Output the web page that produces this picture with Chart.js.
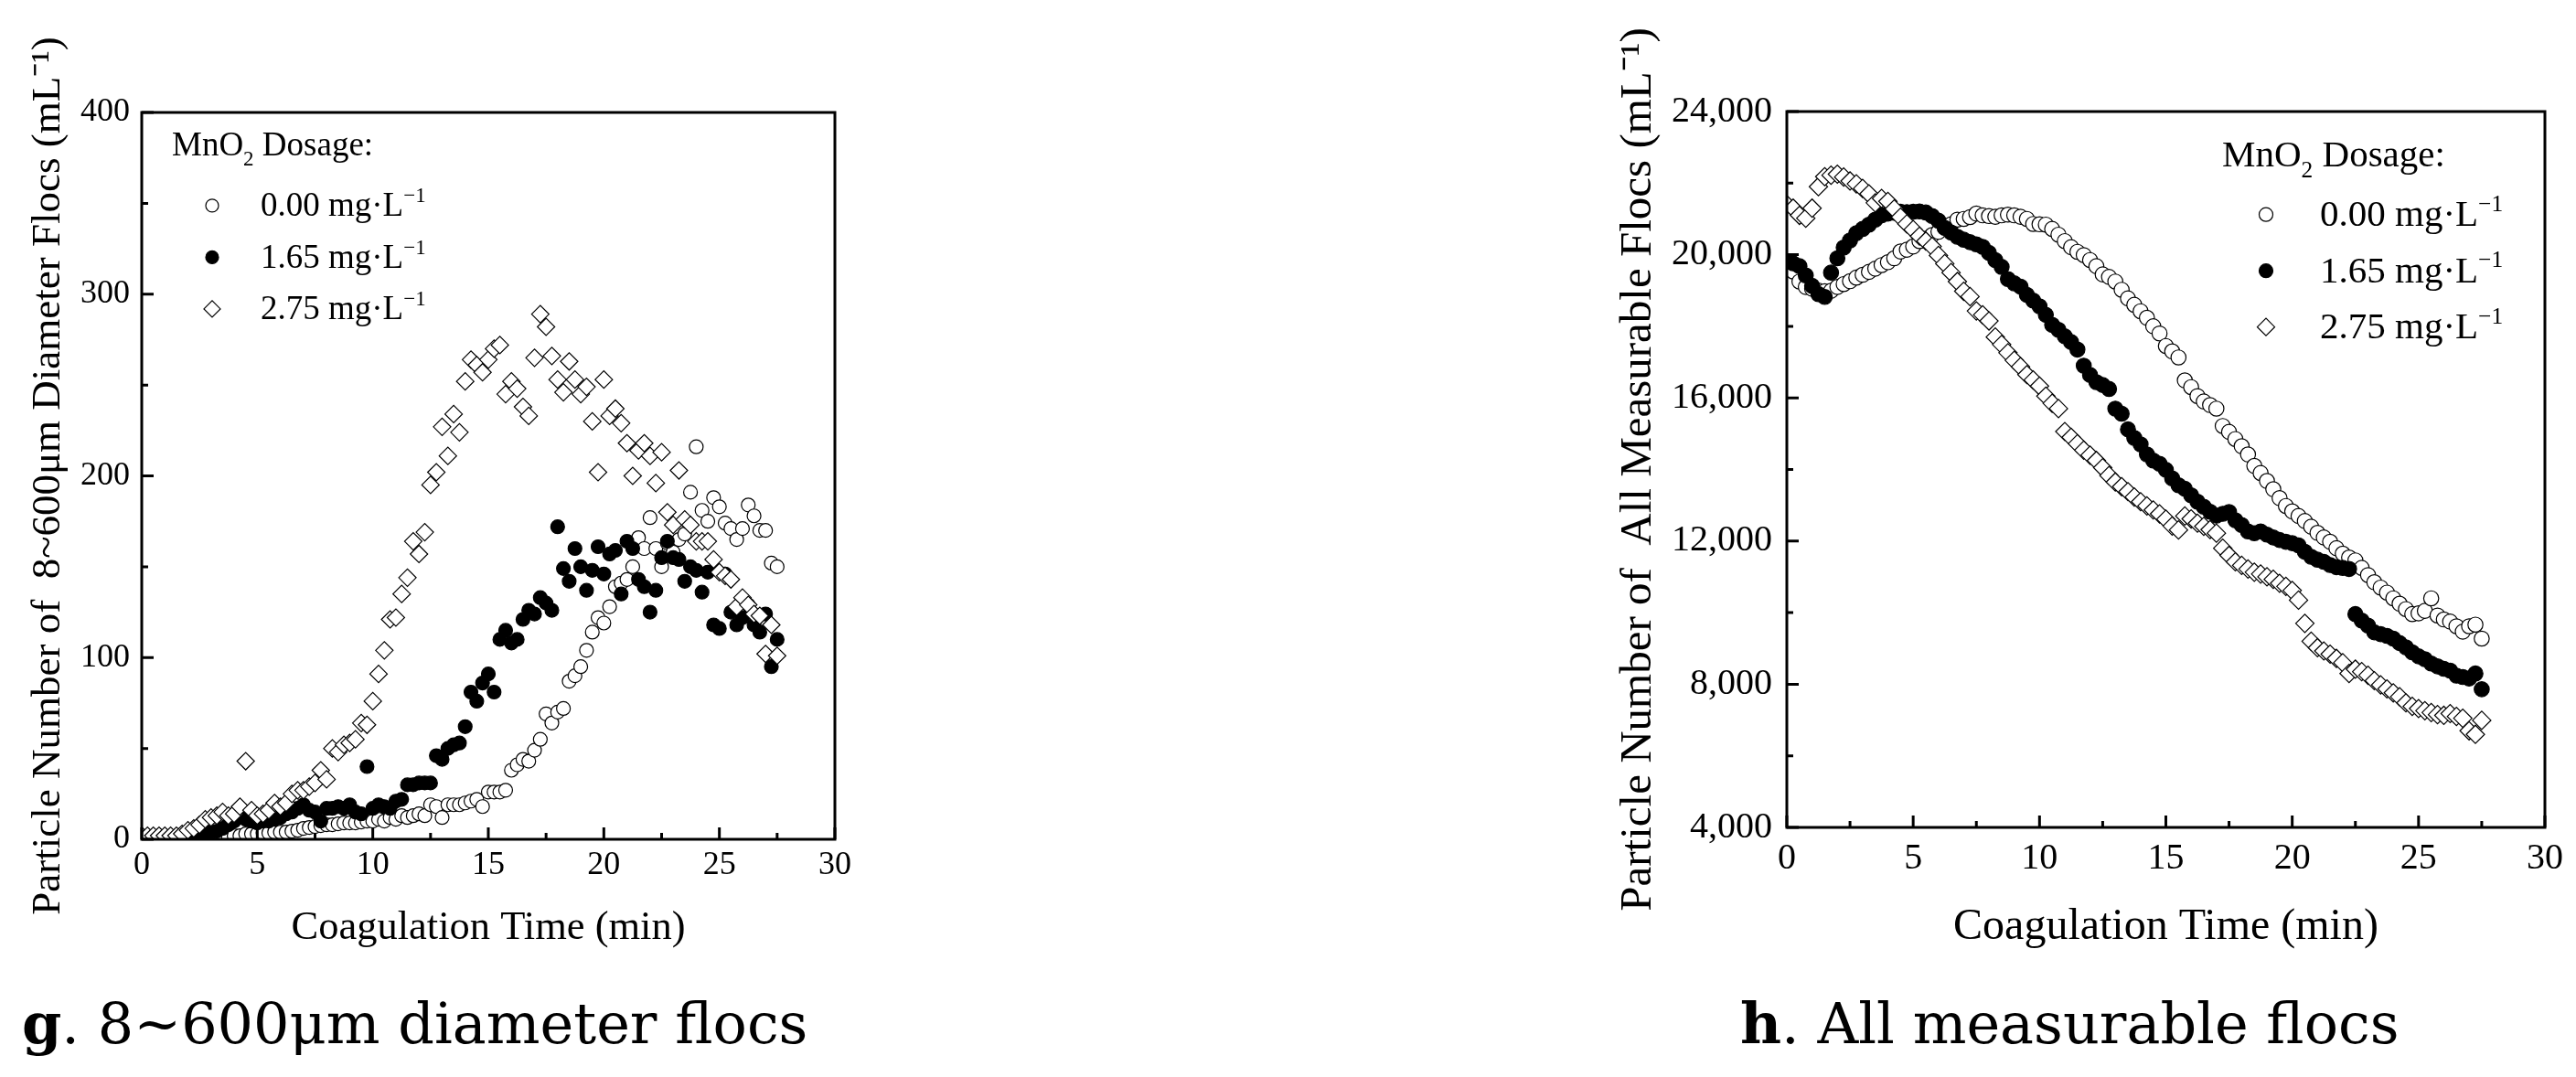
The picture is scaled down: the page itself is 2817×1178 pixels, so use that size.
<!DOCTYPE html>
<html>
<head>
<meta charset="utf-8">
<title>MnO2 dosage - floc particle numbers</title>
<script src="https://cdn.jsdelivr.net/npm/chart.js@4.4.1/dist/chart.umd.min.js"></script>
<style>
  html, body { margin: 0; padding: 0; background: #fff; }
  body { width: 2817px; height: 1178px; position: relative; overflow: hidden; }
  canvas { position: absolute; top: 0; }
  #chartG { left: 0; }
  #chartH { left: 1700px; }
  .caption { position: absolute; top: 1089px; font-family: 'DejaVu Serif', serif; font-size: 62px; line-height: 1; white-space: nowrap; color: #000; }
</style>
</head>
<body>
<canvas id="chartG" width="960" height="1178"></canvas>
<canvas id="chartH" width="1117" height="1178"></canvas>
<div class="caption" style="left:24px;"><b>g</b>. 8~600μm diameter flocs</div>
<div class="caption" style="left:1903px;"><b>h</b>. All measurable flocs</div>
<script>
// coagulation time (min), one reading every 15 s
const times = [0, 0.25, 0.5, 0.75, 1, 1.25, 1.5, 1.75, 2, 2.25, 2.5, 2.75,
  3, 3.25, 3.5, 3.75, 4, 4.25, 4.5, 4.75, 5, 5.25, 5.5, 5.75,
  6, 6.25, 6.5, 6.75, 7, 7.25, 7.5, 7.75, 8, 8.25, 8.5, 8.75,
  9, 9.25, 9.5, 9.75, 10, 10.25, 10.5, 10.75, 11, 11.25, 11.5, 11.75,
  12, 12.25, 12.5, 12.75, 13, 13.25, 13.5, 13.75, 14, 14.25, 14.5, 14.75,
  15, 15.25, 15.5, 15.75, 16, 16.25, 16.5, 16.75, 17, 17.25, 17.5, 17.75,
  18, 18.25, 18.5, 18.75, 19, 19.25, 19.5, 19.75, 20, 20.25, 20.5, 20.75,
  21, 21.25, 21.5, 21.75, 22, 22.25, 22.5, 22.75, 23, 23.25, 23.5, 23.75,
  24, 24.25, 24.5, 24.75, 25, 25.25, 25.5, 25.75, 26, 26.25, 26.5, 26.75,
  27, 27.25, 27.5];

const dosageLabels = ['0.00', '1.65', '2.75'];

// g. 8~600 um flocs (mL-1)
const g000 = [null, null, null, null, null, null, null, null, null, null, null, null,
  0.5, 1, 1, 1.5, 2, 2, 3, 3, 3, 3.5, 3.5, 4,
  4, 4, 4.5, 5, 6, 6.5, 7, 7.5, 8, 8, 8.5, 9,
  9, 9, 9.5, 10, 10, 11, 10, 12, 11, 13, 12, 13,
  14, 13, 19, 18, 12, 19, 19, 19, 20, 21, 22, 18,
  26, 26, 26, 27, 38, 41, 44, 43, 49, 55, 69, 64,
  70, 72, 87, 90, 95, 104, 114, 122, 119, 128, 139, 141,
  143, 150, 166, 160, 177, 160, 150, 163, 158, 165, 168, 191,
  216, 181, 175, 188, 183, 174, 171, 165, 171, 184, 178, 170,
  170, 152, 150];
const g165 = [null, null, null, null, null, null, null, null, null, 0.5, 1.5, 3,
  4, 4.5, 6, 8, 10, 12, 11, 10, 9, 10, 10, 11,
  12, 14, 15, 17, 19, 16, 15, 10, 17, 17, 18, 17,
  19, 15, 14, 40, 17, 19, 18, 17, 21, 22, 30, 30,
  31, 31, 31, 46, 44, 50, 52, 53, 62, 81, 76, 86,
  91, 81, 110, 115, 108, 110, 121, 126, 124, 133, 130, 126,
  172, 149, 142, 160, 150, 137, 148, 161, 146, 157, 159, 135,
  164, 160, 143, 139, 125, 137, 155, 164, 155, 154, 142, 150,
  148, 136, 147, 118, 116, 146, 125, 118, 122, 129, 118, 114,
  124, 95, 110];
const g275 = [2, 2, 2, 2, 2, 2, 2, 3, 5, 6, 8, 11,
  12, 13, 15, 13, 14, 18, 43, 16, 13, 14, 16, 20,
  18, 20, 25, 27, 27, 29, 31, 38, 33, 50, 48, 52,
  53, 55, 64, 63, 76, 91, 104, 121, 122, 135, 144, 164,
  157, 169, 195, 202, 227, 211, 234, 224, 252, 264, 261, 257,
  264, 270, 272, 245, 252, 248, 238, 233, 265, 289, 282, 266,
  253, 246, 263, 253, 245, 249, 230, 202, 253, 233, 237, 229,
  218, 200, 214, 218, 211, 196, 213, 180, 173, 203, 176, 173,
  164, 164, 164, 154, 147, 145, 143, 128, 133, 129, 124, 123,
  102, 118, 101];

// h. all measurable flocs (mL-1)
const h000 = [19650, 19530, 19250, 19100, 19050, 19000, 18980, 18990, 19100, 19180, 19260, 19360,
  19440, 19520, 19610, 19710, 19790, 19900, 20090, 20140, 20230, 20380, 20450, 20550,
  20640, 20760, 20850, 20980, 21000, 21050, 21150, 21100, 21080, 21060, 21100, 21120,
  21100, 21060, 21000, 20860, 20850, 20840, 20720, 20560, 20380, 20210, 20080, 19990,
  19850, 19680, 19450, 19380, 19250, 19020, 18780, 18600, 18420, 18240, 18000, 17800,
  17450, 17300, 17130, 16490, 16300, 16050, 15900, 15800, 15700, 15215, 15050, 14850,
  14650, 14420, 14100, 13900, 13680, 13450, 13200, 12980, 12830, 12700, 12560, 12400,
  12230, 12100, 11980, 11800, 11650, 11540, 11460, 11250, 11050, 10850, 10700, 10560,
  10400, 10250, 10100, 9960, 9980, 10050, 10400, 9920, 9810, 9750, 9620, 9470,
  9620, 9665, 9275];
const h165 = [19800, 19760, 19680, 19420, 19130, 18900, 18820, 19500, 19900, 20200, 20400, 20600,
  20720, 20840, 20980, 21100, 21150, 21170, 21200, 21190, 21200, 21210, 21180, 21080,
  20950, 20750, 20620, 20500, 20420, 20350, 20290, 20220, 20050, 19850, 19660, 19320,
  19200, 19110, 18880, 18720, 18560, 18320, 18040, 17900, 17720, 17560, 17350, 16900,
  16640, 16440, 16360, 16250, 15700, 15560, 15120, 14880, 14700, 14420, 14250, 14160,
  13990, 13750, 13560, 13460, 13280, 13100, 12960, 12820, 12710, 12760, 12810, 12580,
  12450, 12270, 12220, 12270, 12180, 12100, 12030, 11980, 11940, 11880, 11700, 11560,
  11480, 11420, 11330, 11270, 11250, 11220, 9960, 9780, 9640, 9450, 9400, 9350,
  9275, 9150, 9030, 8890, 8780, 8700, 8580, 8500, 8430, 8380, 8240, 8200,
  8160, 8300, 7860];
const h275 = [21400, 21300, 21100, 21020, 21300, 21900, 22180, 22220, 22250, 22170, 22060, 21980,
  21850, 21700, 21450, 21570, 21490, 21280, 21050, 20860, 20700, 20520, 20380, 20230,
  19980, 19750, 19500, 19250, 18980, 18830, 18430, 18320, 18150, 17700, 17490, 17260,
  17050, 16870, 16650, 16500, 16330, 16050, 15850, 15700, 15060, 14900, 14720, 14540,
  14400, 14250, 14050, 13830, 13650, 13520, 13380, 13230, 13100, 12980, 12870, 12760,
  12610, 12420, 12310, 12700, 12620, 12500, 12410, 12320, 12220, 11800, 11600, 11420,
  11320, 11220, 11130, 11080, 11000, 10930, 10820, 10735, 10620, 10350, 9700, 9200,
  9020, 8930, 8840, 8720, 8600, 8300, 8420, 8350, 8250, 8100, 7980, 7870,
  7760, 7650, 7480, 7380, 7320, 7260, 7210, 7150, 7130, 7180, 7100, 7050,
  6700, 6600, 6990];

// axis ticks
const xTicks = [0, 5, 10, 15, 20, 25, 30];
const xMinor = [2.5, 7.5, 12.5, 17.5, 22.5, 27.5];
const gYTicks = [0, 100, 200, 300, 400];
const gYMinor = [50, 150, 250, 350];
const hYTicks = [4000, 8000, 12000, 16000, 20000, 24000];
const hYMinor = [6000, 10000, 14000, 18000, 22000];

const markerStyles = [
  { pointStyle: 'circle', backgroundColor: '#fff', borderColor: '#000', borderWidth: 1.2 },
  { pointStyle: 'circle', backgroundColor: '#000', borderColor: '#000', borderWidth: 1.2 },
  { pointStyle: 'rectRot', backgroundColor: '#fff', borderColor: '#000', borderWidth: 1.2 }
];

const SERIF = "'Liberation Serif', 'Times New Roman', serif";
Chart.defaults.font.family = SERIF;
Chart.defaults.color = '#000';

// text with sub / superscripts: [[text, 'n'|'sup'|'sub'], ...]
function drawRich(ctx, parts, x, y, size) {
  let cx = x;
  parts.forEach(([t, kind]) => {
    const s = kind === 'n' ? size : size * 0.62;
    const dy = kind === 'sup' ? -size * 0.4 : kind === 'sub' ? size * 0.3 : 0;
    ctx.font = s + 'px ' + SERIF;
    ctx.fillText(t, cx, y + dy);
    cx += ctx.measureText(t).width;
  });
}

function drawMarker(ctx, st, x, y, r) {
  ctx.beginPath();
  if (st.pointStyle === 'rectRot') {
    ctx.moveTo(x - r, y); ctx.lineTo(x, y - r); ctx.lineTo(x + r, y); ctx.lineTo(x, y + r);
    ctx.closePath();
  } else {
    ctx.arc(x, y, r, 0, Math.PI * 2);
  }
  ctx.fillStyle = st.backgroundColor;
  ctx.fill();
  ctx.lineWidth = st.borderWidth;
  ctx.strokeStyle = st.borderColor;
  ctx.stroke();
}

// box frame + inward major/minor ticks
const frameTicks = {
  id: 'frameTicks',
  afterDatasetsDraw(chart, args, o) {
    const { ctx, chartArea: a, scales: { x, y } } = chart;
    ctx.save();
    ctx.strokeStyle = '#000';
    ctx.lineWidth = 3;
    ctx.beginPath();
    o.xMajor.forEach(v => { const px = x.getPixelForValue(v); ctx.moveTo(px, a.bottom); ctx.lineTo(px, a.bottom - 13); });
    o.xMinor.forEach(v => { const px = x.getPixelForValue(v); ctx.moveTo(px, a.bottom); ctx.lineTo(px, a.bottom - 7); });
    o.yMajor.forEach(v => { const py = y.getPixelForValue(v); ctx.moveTo(a.left, py); ctx.lineTo(a.left + 13, py); });
    o.yMinor.forEach(v => { const py = y.getPixelForValue(v); ctx.moveTo(a.left, py); ctx.lineTo(a.left + 7, py); });
    ctx.stroke();
    ctx.strokeRect(a.left, a.top, a.width, a.height);
    ctx.restore();
  }
};

const insideLegend = {
  id: 'insideLegend',
  afterDraw(chart, args, o) {
    const { ctx, chartArea: a } = chart;
    ctx.save();
    ctx.textAlign = 'left';
    ctx.textBaseline = 'alphabetic';
    ctx.fillStyle = '#000';
    drawRich(ctx, [['MnO', 'n'], ['2', 'sub'], [' Dosage:', 'n']], a.left + o.titleX, a.top + o.titleY, o.size);
    chart.data.datasets.forEach((d, i) => {
      const base = a.top + o.firstY + i * o.step;
      drawMarker(ctx, markerStyles[i], a.left + o.markX, base - o.size * 0.3, o.markR[i]);
      ctx.fillStyle = '#000';
      drawRich(ctx, [[d.label + ' mg·L', 'n'], ['−1', 'sup']], a.left + o.textX, base, o.size);
    });
    ctx.restore();
  }
};

function makeChart(id, p) {
  const datasets = p.series.map((vals, i) => ({
    label: dosageLabels[i],
    data: times.map((t, k) => ({ x: t, y: vals[k] })),
    pointStyle: markerStyles[i].pointStyle,
    backgroundColor: markerStyles[i].backgroundColor,
    borderColor: markerStyles[i].borderColor,
    borderWidth: markerStyles[i].borderWidth,
    pointRadius: p.radius[i],
    showLine: false,
    clip: 0,
    order: 3 - i
  }));
  return new Chart(document.getElementById(id), {
    type: 'scatter',
    data: { datasets },
    plugins: [frameTicks, insideLegend],
    options: {
      responsive: false,
      animation: false,
      events: [],
      layout: { padding: p.padding },
      plugins: {
        legend: { display: false },
        tooltip: { enabled: false },
        frameTicks: { xMajor: xTicks, xMinor: xMinor, yMajor: p.yTicks, yMinor: p.yMinor },
        insideLegend: p.legend
      },
      scales: {
        x: {
          type: 'linear', min: 0, max: 30,
          afterBuildTicks: s => { s.ticks = xTicks.map(v => ({ value: v })); },
          afterFit: s => { s.height = p.xHeight; },
          ticks: { autoSkip: false, maxRotation: 0, font: { size: p.tickSize }, padding: p.xPad },
          grid: { display: false, drawTicks: false },
          border: { display: false },
          title: { display: true, text: 'Coagulation Time (min)', font: { size: p.xTitleSize }, padding: { top: 0, bottom: p.xTitlePad } }
        },
        y: {
          type: 'linear', min: p.yTicks[0], max: p.yTicks[p.yTicks.length - 1],
          afterBuildTicks: s => { s.ticks = p.yTicks.map(v => ({ value: v })); },
          afterFit: s => { s.width = p.yWidth; },
          ticks: { autoSkip: false, font: { size: p.tickSize }, padding: p.yPad,
                   callback: v => v.toLocaleString('en-US') },
          grid: { display: false, drawTicks: false },
          border: { display: false },
          title: { display: true, text: p.yTitle, font: { size: p.yTitleSize }, padding: { top: p.yTitlePad, bottom: 0 } }
        }
      }
    }
  });
}

makeChart('chartG', {
  series: [g000, g165, g275],
  radius: [7.5, 7.5, 9.5],
  yTicks: gYTicks, yMinor: gYMinor,
  padding: { left: 0, top: 123, right: 47, bottom: 136 },
  xHeight: 124, yWidth: 155,
  tickSize: 36, xPad: 7, yPad: 13,
  xTitleSize: 44.5, xTitlePad: 0,
  yTitle: 'Particle Number of  8~600μm Diameter Flocs (mL⁻¹)', yTitleSize: 45, yTitlePad: 26,
  legend: { size: 37, titleX: 33, titleY: 47, markX: 77, textX: 130, firstY: 113, step: 56.5, markR: [7, 7, 9] }
});

makeChart('chartH', {
  series: [h000, h165, h275],
  radius: [8.2, 8.2, 10],
  yTicks: hYTicks, yMinor: hYMinor,
  padding: { left: 0, top: 122, right: 34, bottom: 133 },
  xHeight: 140, yWidth: 254,
  tickSize: 40, xPad: 10, yPad: 16,
  xTitleSize: 48, xTitlePad: 2,
  yTitle: 'Particle Number of  All Measurable Flocs (mL⁻¹)', yTitleSize: 49, yTitlePad: 63,
  legend: { size: 41, titleX: 476, titleY: 60, markX: 524, textX: 583, firstY: 125, step: 61.5, markR: [7.5, 7.5, 9.5] }
});
</script>
</body>
</html>
